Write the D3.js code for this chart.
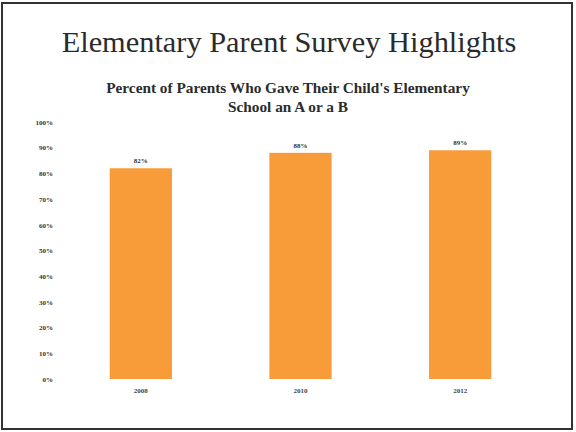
<!DOCTYPE html>
<html><head><meta charset="utf-8">
<script src="https://cdn.jsdelivr.net/npm/d3@7"></script>
<style>html,body{margin:0;padding:0;background:#fff;}svg{display:block;}</style>
</head><body>
<script>
const titleText = "Elementary Parent Survey Highlights";
const subtitleLines = ["Percent of Parents Who Gave Their Child's Elementary", "School an A or a B"];
const years = ["2008", "2010", "2012"];
const values = [82, 88, 89];
const valueLabels = ["82%", "88%", "89%"];
const yTicks = [0, 10, 20, 30, 40, 50, 60, 70, 80, 90, 100];

const W = 576, H = 432;
const svg = d3.select("body").append("svg").attr("width", W).attr("height", H);
svg.append("rect").attr("width", W).attr("height", H).attr("fill", "#fff");
svg.append("rect").attr("x", 2).attr("y", 3).attr("width", 570).attr("height", 426)
  .attr("fill", "none").attr("stroke", "#333").attr("stroke-width", 2);

const serif = "'Liberation Serif','DejaVu Serif',serif";

function fitText(sel, target) {
  const n = sel.node();
  const w = n.getComputedTextLength();
  const fs = parseFloat(sel.attr("font-size"));
  sel.attr("font-size", fs * target / w);
}

const t = svg.append("text").attr("x", 289).attr("y", 52).attr("text-anchor", "middle")
  .attr("font-family", serif).attr("font-size", 30).attr("fill", "#2b2b2b").text(titleText);
fitText(t, 455);

const s1 = svg.append("text").attr("x", 288).attr("y", 93).attr("text-anchor", "middle")
  .attr("font-family", serif).attr("font-weight", "bold").attr("font-size", 14).attr("fill", "#2b2b2b")
  .text(subtitleLines[0]);
fitText(s1, 364);
svg.append("text").attr("x", 288).attr("y", 112).attr("text-anchor", "middle")
  .attr("font-family", serif).attr("font-weight", "bold").attr("font-size", s1.attr("font-size")).attr("fill", "#2b2b2b")
  .text(subtitleLines[1]);

const y = d3.scaleLinear().domain([0, 100]).range([379, 122]);
const x = d3.scaleBand().domain(years).range([61, 540]).paddingInner(0.61).paddingOuter(0.305);

const yAxis = svg.append("g").attr("transform", "translate(53,0)")
  .call(d3.axisLeft(y).tickValues(yTicks).tickSize(0).tickPadding(0).tickFormat(d => d + "%"));
yAxis.select(".domain").remove();
yAxis.selectAll("text").attr("font-family", serif).attr("font-weight", "bold").attr("font-size", 7).attr("fill", "#333");

const xAxis = svg.append("g").attr("transform", "translate(0,379)")
  .call(d3.axisBottom(x).tickSize(0).tickPadding(9));
xAxis.select(".domain").remove();
xAxis.selectAll("text").attr("font-family", serif).attr("font-weight", "bold").attr("font-size", 7).attr("fill", "#444");

svg.selectAll("rect.bar").data(values).join("rect").attr("class", "bar")
  .attr("x", (d, i) => x(years[i])).attr("width", x.bandwidth())
  .attr("y", d => y(d)).attr("height", d => y(0) - y(d))
  .attr("fill", "#F89C3A");

svg.selectAll("text.val").data(values).join("text").attr("class", "val")
  .attr("x", (d, i) => x(years[i]) + x.bandwidth() / 2).attr("y", d => y(d) - 5)
  .attr("text-anchor", "middle").attr("font-family", serif).attr("font-weight", "bold")
  .attr("font-size", 7).attr("fill", "#333").text((d, i) => valueLabels[i]);
</script>
</body></html>
